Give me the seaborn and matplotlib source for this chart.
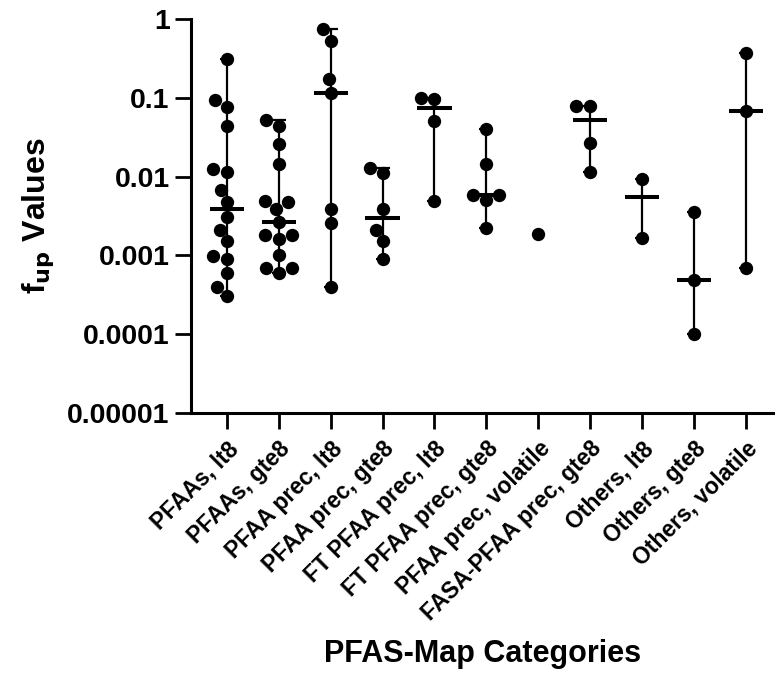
import numpy as np
import pandas as pd
import matplotlib
matplotlib.use("Agg")
import matplotlib.pyplot as plt
import seaborn as sns

categories = ["PFAAs, lt8", "PFAAs, gte8", "PFAA prec, lt8", "PFAA prec, gte8",
              "FT PFAA prec, lt8", "FT PFAA prec, gte8", "PFAA prec, volatile",
              "FASA-PFAA prec, gte8", "Others, lt8", "Others, gte8", "Others, volatile"]

pfaas_lt8 = [0.31, 0.093, 0.076, 0.044, 0.0115, 0.0126, 0.0067, 0.0047, 0.0031,
             0.0021, 0.0015, 0.00098, 0.00091, 0.00059, 0.0004, 0.0003]
pfaas_gte8 = [0.052, 0.044, 0.026, 0.0144, 0.0047, 0.0049, 0.0039, 0.00266,
              0.0018, 0.0018, 0.0016, 0.001, 0.00059, 0.00069, 0.00069]
pfaa_prec_lt8 = [0.74, 0.53, 0.171, 0.116, 0.0039, 0.0026, 0.0004]
pfaa_prec_gte8 = [0.011, 0.0127, 0.0039, 0.0021, 0.0015, 0.00089]
ft_pfaa_prec_lt8 = [0.096, 0.1, 0.051, 0.0049]
ft_pfaa_prec_gte8 = [0.0396, 0.0143, 0.0058, 0.0058, 0.0050, 0.0022]
pfaa_prec_volatile = [0.00184]
fasa_pfaa_prec_gte8 = [0.0785, 0.0785, 0.0263, 0.0115]
others_lt8 = [0.0094, 0.00166]
others_gte8 = [0.00357, 0.00049, 0.0001]
others_volatile = [0.373, 0.0678, 0.00069]

series = [pfaas_lt8, pfaas_gte8, pfaa_prec_lt8, pfaa_prec_gte8, ft_pfaa_prec_lt8,
          ft_pfaa_prec_gte8, pfaa_prec_volatile, fasa_pfaa_prec_gte8, others_lt8,
          others_gte8, others_volatile]

y_ticks = [1e-5, 1e-4, 1e-3, 1e-2, 1e-1, 1]
y_tick_labels = ["0.00001", "0.0001", "0.001", "0.01", "0.1", "1"]

df = pd.DataFrame({
    "category": [c for c, s in zip(categories, series) for _ in s],
    "value": [v for s in series for v in s],
})

sns.set_style("ticks", {"axes.edgecolor": "black", "text.color": "black",
                        "xtick.color": "black", "ytick.color": "black",
                        "axes.labelcolor": "black"})
plt.rcParams["font.family"] = ["Liberation Sans", "DejaVu Sans"]
plt.rcParams["font.weight"] = "bold"
plt.rcParams["axes.labelweight"] = "bold"

fig = plt.figure(figsize=(7.75, 6.79), dpi=100)
ax = fig.add_axes([0.2465, 0.392, 0.7535, 0.580])
ax.set_yscale("log")

sns.swarmplot(data=df, x="category", y="value", order=categories, color="black",
              size=9.6, linewidth=0, ax=ax, zorder=3)

for i, vals in enumerate(series):
    v = np.array(vals)
    if len(v) < 2:
        continue
    med = np.median(v)
    ax.errorbar(i, med, yerr=[[med - v.min()], [v.max() - med]], fmt="none",
                ecolor="black", elinewidth=1.6, capsize=4.7, capthick=1.6, zorder=2)
    ax.hlines(med, i - 0.33, i + 0.33, color="black", lw=2.9, zorder=4)

ax.set_ylim(1e-5, 1)
ax.set_xlim(-0.69, 10.56)
ax.set_yticks(y_ticks)
ax.set_yticklabels(y_tick_labels)
ax.yaxis.set_minor_locator(matplotlib.ticker.NullLocator())

for s in ["left", "bottom"]:
    ax.spines[s].set_linewidth(2.2)
    ax.spines[s].set_color("black")
sns.despine(ax=ax)

ax.tick_params(axis="both", length=11.5, width=2.0, color="black", labelcolor="black")
ax.tick_params(axis="y", labelsize=20.5, pad=4)
ax.tick_params(axis="x", labelsize=16.5, pad=6)
plt.setp(ax.get_xticklabels(), rotation=45, ha="right", rotation_mode="anchor",
         fontweight="bold")
plt.setp(ax.get_yticklabels(), fontweight="bold")

ax.set_ylabel(r"f$_{\mathbf{up}}$ Values", fontsize=23, fontweight="bold",
              labelpad=8, color="black")
ax.set_xlabel("PFAS-Map Categories", fontsize=22, fontweight="bold",
              labelpad=10, color="black")

fig.savefig("out.png", dpi=100)
